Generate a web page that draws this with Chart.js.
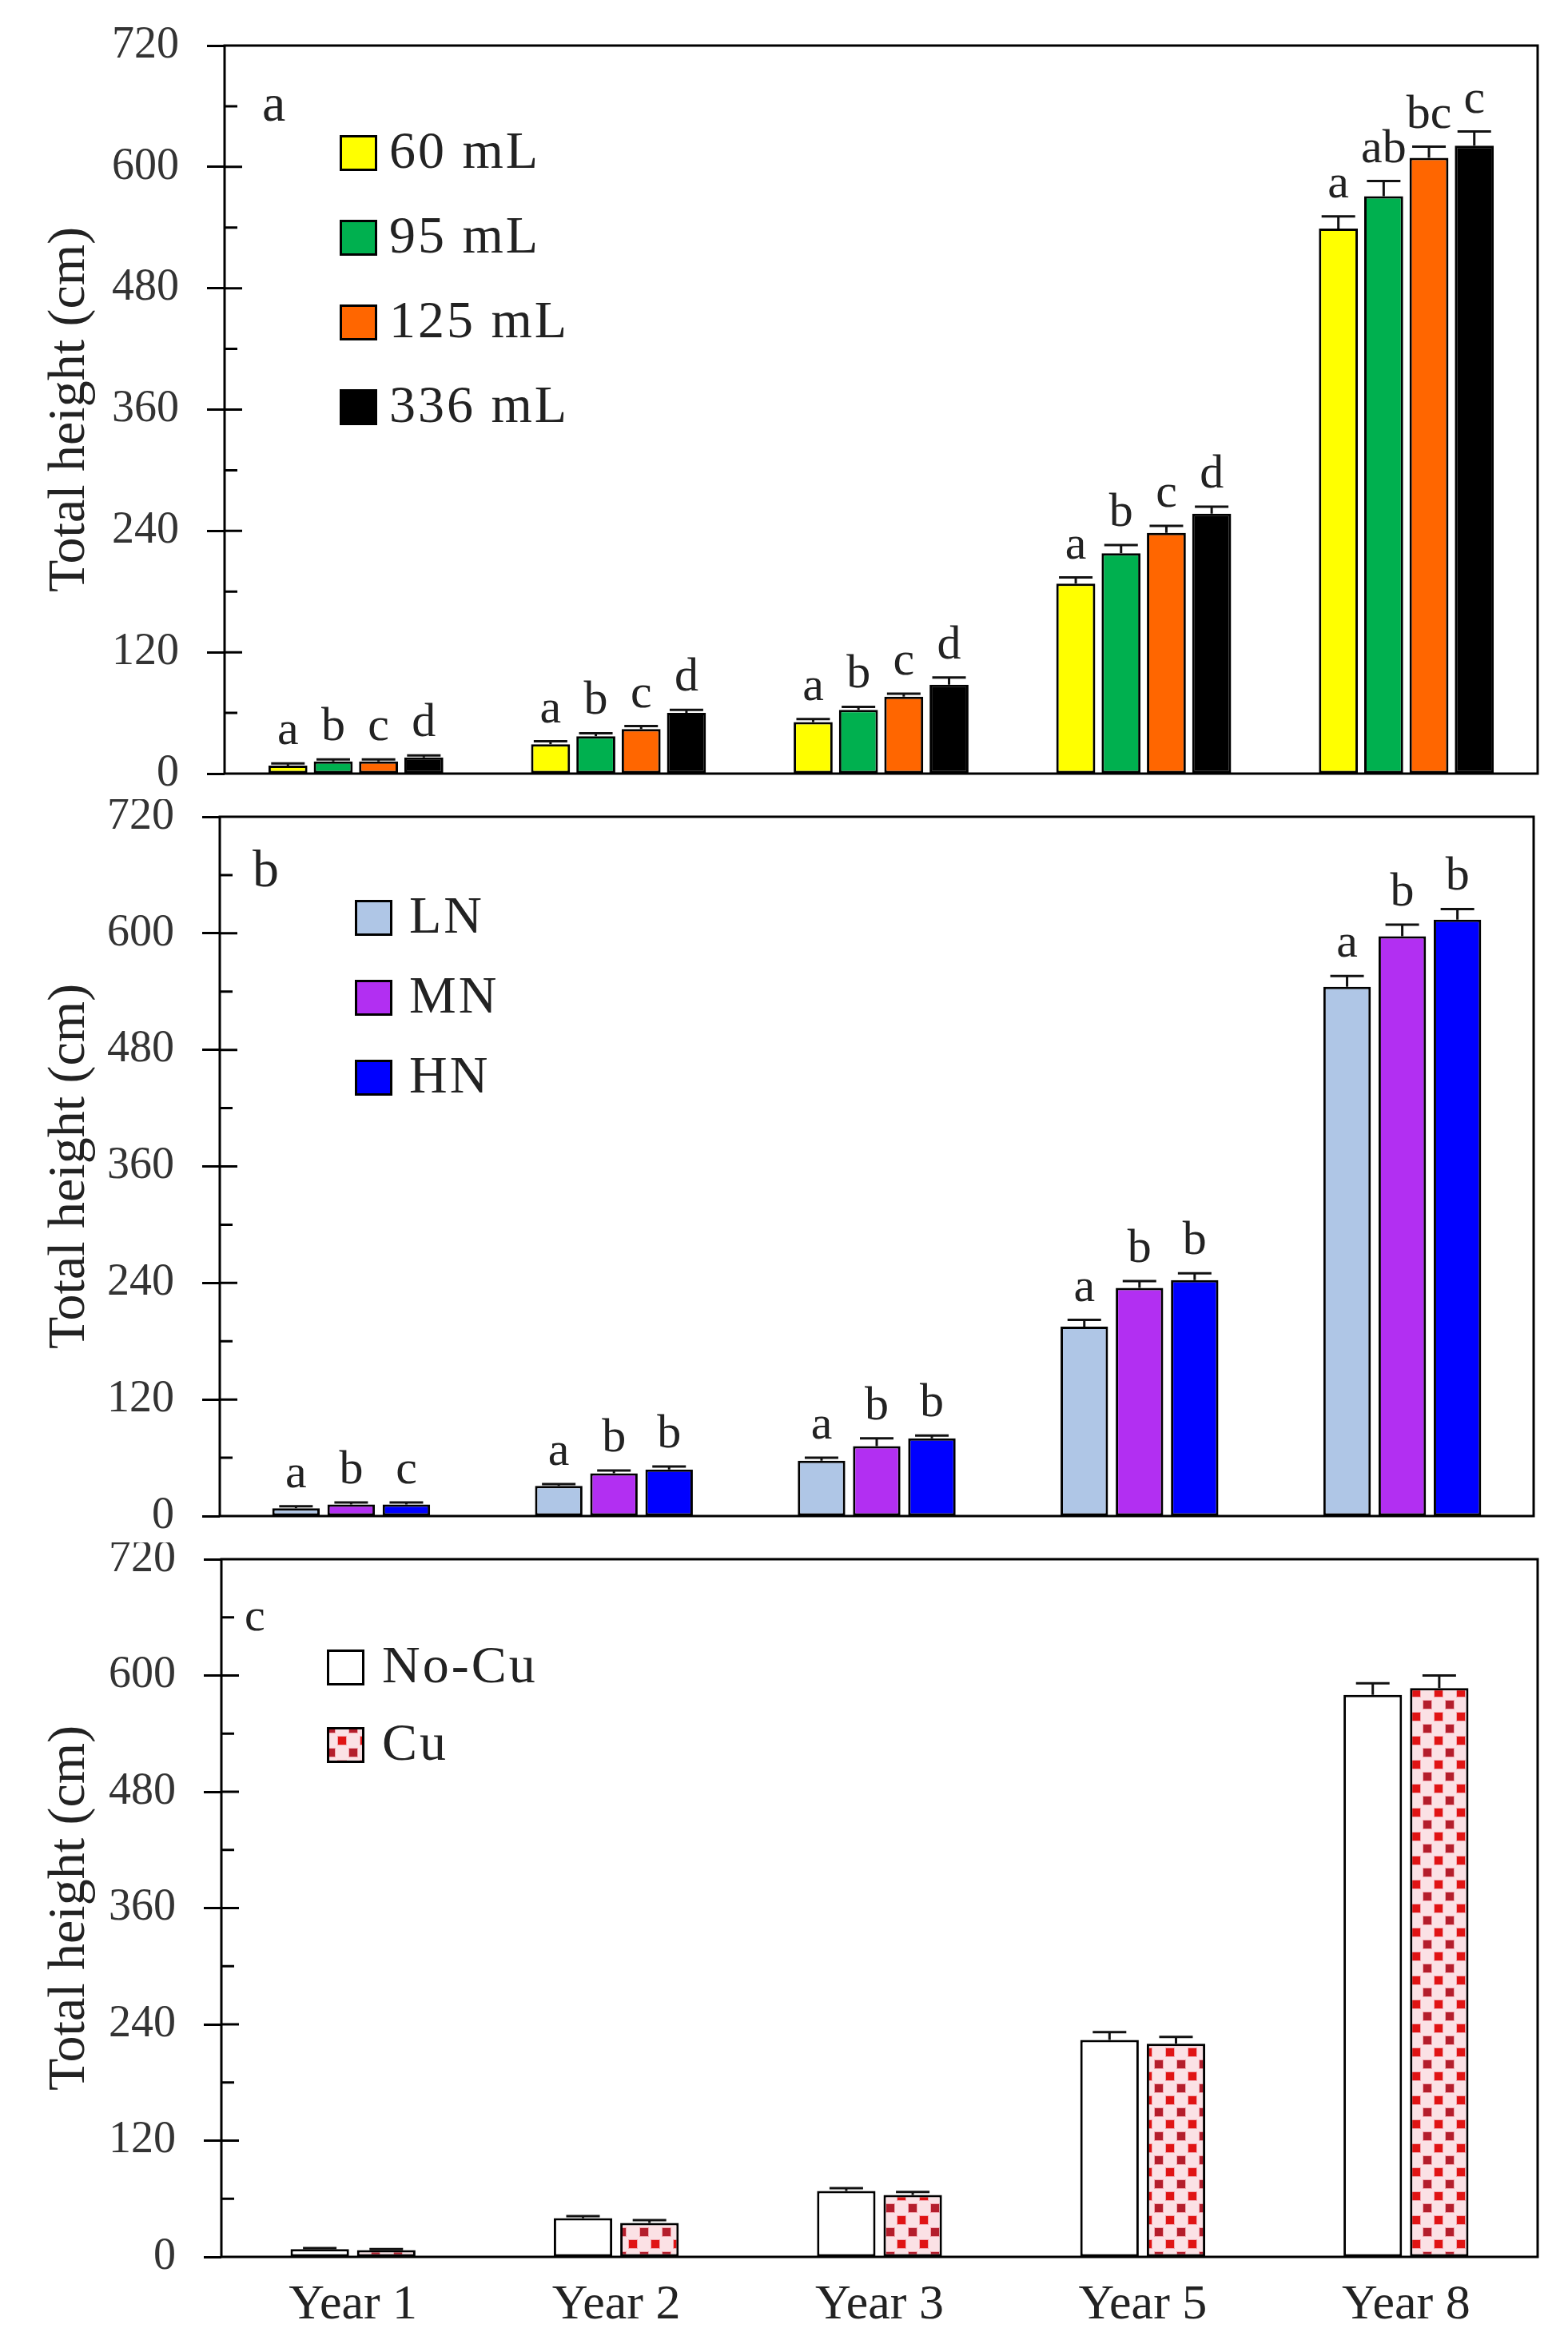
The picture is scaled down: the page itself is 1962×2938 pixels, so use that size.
<!DOCTYPE html>
<html>
<head>
<meta charset="utf-8">
<script src="https://cdn.jsdelivr.net/npm/chart.js@4.4.1/dist/chart.umd.min.js"></script>
<style>
  html, body { margin: 0; padding: 0; background: #fff; }
  #wrap { position: relative; width: 1962px; height: 2938px; }
  canvas { position: absolute; left: 0; }
</style>
</head>
<body>
<div id="wrap">
  <canvas id="chartA" width="1962" height="1000" style="top:0px;width:1962px;height:1000px"></canvas>
  <canvas id="chartB" width="1962" height="930" style="top:1000px;width:1962px;height:930px"></canvas>
  <canvas id="chartC" width="1962" height="1008" style="top:1930px;width:1962px;height:1008px"></canvas>
</div>
<script>
// categorias (anos)
const years = ['Year 1', 'Year 2', 'Year 3', 'Year 5', 'Year 8'];
const yTicks = [0, 120, 240, 360, 480, 600, 720];

// painel a - volume do recipiente
const vol60 = [8, 29, 51, 188, 539];
const vol95 = [12, 37, 63, 218, 571];
const vol125 = [12, 44, 76, 238, 609];
const vol336 = [16, 60, 88, 257, 621];
const err60 = [2, 3, 3, 6, 12];
const err95 = [2, 3, 3, 8, 15];
const err125 = [2, 3, 3, 7, 11];
const err336 = [2, 3, 7, 7, 14];
const let60 = ['a', 'a', 'a', 'a', 'a'];
const let95 = ['b', 'b', 'b', 'b', 'ab'];
const let125 = ['c', 'c', 'c', 'c', 'bc'];
const let336 = ['d', 'd', 'd', 'd', 'c'];

// painel b - nitrogenio
const ln = [8, 31, 57, 195, 545];
const mn = [12, 44, 72, 235, 597];
const hn = [12, 48, 80, 243, 614];
const errLN = [2, 2, 3, 7, 11];
const errMN = [2, 3, 8, 7, 12];
const errHN = [2, 3, 3, 7, 11];
const letLN = ['a', 'a', 'a', 'a', 'a'];
const letMN = ['b', 'b', 'b', 'b', 'b'];
const letHN = ['c', 'b', 'b', 'b', 'b'];

// painel c - cobre
const noCu = [8, 40, 68, 224, 580];
const cu = [7, 35, 64, 220, 587];
const errNoCu = [1, 2, 3, 8, 12];
const errCu = [1, 3, 3, 7, 13];

Chart.defaults.font.family = '"Liberation Serif", "Times New Roman", serif';
Chart.defaults.color = '#222';

// padrao pontilhado vermelho para Cu
function dotPattern() {
    const c = document.createElement('canvas');
    c.width = 28; c.height = 30;
    const g = c.getContext('2d');
    g.fillStyle = '#fbe1e5';
    g.fillRect(0, 0, 28, 30);
    g.fillStyle = '#f4a8b0';
    g.fillRect(2, 2, 12, 12);
    g.fillRect(16, 17, 12, 12);
    g.fillStyle = '#e01414';
    g.fillRect(3, 3, 10, 10);
    g.fillStyle = '#b41e2c';
    g.fillRect(17, 18, 10, 10);
    return g.createPattern(c, 'repeat');
}
const cuPattern = dotPattern();

// barras de erro, letras, legenda, moldura e ticks internos
const decor = {
    id: 'decor',
    afterDatasetsDraw(chart, args, opts) {
        const ctx = chart.ctx;
        const yScale = chart.scales.y;
        ctx.save();
        chart.data.datasets.forEach((ds, i) => {
            const meta = chart.getDatasetMeta(i);
            meta.data.forEach((bar, j) => {
                const capY = yScale.getPixelForValue(ds.data[j] + ds.errors[j]);
                ctx.strokeStyle = '#111';
                ctx.lineWidth = 3;
                ctx.beginPath();
                ctx.moveTo(bar.x, bar.y);
                ctx.lineTo(bar.x, capY);
                ctx.moveTo(bar.x - 21, capY);
                ctx.lineTo(bar.x + 21, capY);
                ctx.stroke();
                if (ds.letters) {
                    ctx.fillStyle = '#222';
                    ctx.font = '60px "Liberation Serif", serif';
                    ctx.textAlign = 'center';
                    ctx.textBaseline = 'alphabetic';
                    ctx.fillText(ds.letters[j], bar.x, capY - 24);
                }
            });
        });
        ctx.restore();
    },
    afterDraw(chart, args, opts) {
        const ctx = chart.ctx;
        const area = chart.chartArea;
        const yScale = chart.scales.y;
        ctx.save();
        // moldura
        ctx.strokeStyle = '#000';
        ctx.lineWidth = 3;
        ctx.strokeRect(area.left, area.top, area.right - area.left, area.bottom - area.top);
        // ticks para dentro
        ctx.beginPath();
        for (let v = 60; v < 720; v += 60) {
            const y = yScale.getPixelForValue(v);
            ctx.moveTo(area.left, y);
            ctx.lineTo(area.left + (v % 120 === 0 ? 22 : 16), y);
        }
        ctx.stroke();
        // letra do painel
        ctx.fillStyle = '#222';
        ctx.font = opts.labelSize + 'px "Liberation Serif", serif';
        ctx.textAlign = 'left';
        ctx.textBaseline = 'alphabetic';
        ctx.fillText(opts.label, area.left + opts.labelX, area.top + opts.labelY);
        // legenda
        ctx.font = '66px "Liberation Serif", serif';
        ctx.textBaseline = 'middle';
        if ('letterSpacing' in ctx) ctx.letterSpacing = '3px';
        chart.data.datasets.forEach((ds, i) => {
            const bx = area.left + opts.legX;
            const cy = area.top + opts.legY + i * opts.legGap;
            ctx.fillStyle = ds.backgroundColor;
            ctx.fillRect(bx, cy - 22, 47, 45);
            ctx.strokeStyle = '#000';
            ctx.lineWidth = 3;
            ctx.strokeRect(bx + 1.5, cy - 20.5, 44, 42);
            ctx.fillStyle = '#222';
            ctx.fillText(ds.label, bx + opts.legText, cy + 2);
        });
        ctx.restore();
    }
};

function criarPainel(id, datasets, cfg) {
    return new Chart(document.getElementById(id), {
        type: 'bar',
        data: { labels: years, datasets: datasets },
        options: {
            responsive: false,
            animation: false,
            devicePixelRatio: 1,
            layout: { padding: { top: cfg.top, right: 1962 - cfg.right, bottom: 0, left: 0 } },
            datasets: { bar: { categoryPercentage: cfg.catPct, barPercentage: cfg.barPct, borderWidth: 3, borderColor: '#000', borderSkipped: false } },
            plugins: {
                legend: { display: false },
                tooltip: { enabled: false },
                decor: cfg.decor
            },
            scales: {
                x: {
                    grid: { display: false, drawTicks: false },
                    border: { display: false },
                    ticks: { display: cfg.showX, font: { size: 62 }, color: '#222', padding: 24 },
                    afterFit: s => {
                        s.height = cfg.xHeight;
                        s.paddingLeft = 0; s.paddingRight = 0;
                    }
                },
                y: {
                    min: 0, max: 720,
                    afterBuildTicks: s => {
                        s.ticks = [];
                        for (let v = 0; v <= 720; v += 60) s.ticks.push({ value: v });
                    },
                    ticks: {
                        autoSkip: false,
                        callback: v => yTicks.includes(v) ? v : '',
                        font: { size: 56 }, color: '#333', padding: 35
                    },
                    grid: {
                        drawOnChartArea: false, tickLength: 22, tickWidth: 3,
                        tickColor: c => (c.tick && c.tick.value % 120 === 0) ? '#000' : 'rgba(0,0,0,0)'
                    },
                    border: { display: false },
                    title: { display: true, text: 'Total height (cm)', font: { size: 66 }, color: '#222', padding: { top: 48, bottom: 0 } },
                    afterFit: s => {
                        s.width = cfg.left;
                        s.paddingTop = 0; s.paddingBottom = 0;
                    }
                }
            }
        },
        plugins: [decor]
    });
}

criarPainel('chartA', [
    { label: '60 mL', data: vol60, errors: err60, letters: let60, backgroundColor: '#ffff00' },
    { label: '95 mL', data: vol95, errors: err95, letters: let95, backgroundColor: '#00b04f' },
    { label: '125 mL', data: vol125, errors: err125, letters: let125, backgroundColor: '#ff6600' },
    { label: '336 mL', data: vol336, errors: err336, letters: let336, backgroundColor: '#000000' }
], {
    top: 57, left: 281, right: 1924, xHeight: 32, showX: false, catPct: 0.69, barPct: 0.86,
    decor: { label: 'a', labelSize: 66, labelX: 47, labelY: 94, legX: 144, legY: 134, legGap: 106, legText: 62 }
});

criarPainel('chartB', [
    { label: 'LN', data: ln, errors: errLN, letters: letLN, backgroundColor: '#afc6e6' },
    { label: 'MN', data: mn, errors: errMN, letters: letMN, backgroundColor: '#b22ff2' },
    { label: 'HN', data: hn, errors: errHN, letters: letHN, backgroundColor: '#0000ff' }
], {
    top: 22, left: 275, right: 1919, xHeight: 33, showX: false, catPct: 0.63, barPct: 0.86,
    decor: { label: 'b', labelSize: 66, labelX: 41, labelY: 87, legX: 169, legY: 126, legGap: 100, legText: 68 }
});

criarPainel('chartC', [
    { label: 'No-Cu', data: noCu, errors: errNoCu, backgroundColor: '#ffffff' },
    { label: 'Cu', data: cu, errors: errCu, backgroundColor: cuPattern }
], {
    top: 21, left: 277, right: 1924, xHeight: 114, showX: true, catPct: 0.505, barPct: 0.88,
    decor: { label: 'c', labelSize: 58, labelX: 29, labelY: 89, legX: 132, legY: 135, legGap: 97, legText: 69 }
});
</script>
</body>
</html>
